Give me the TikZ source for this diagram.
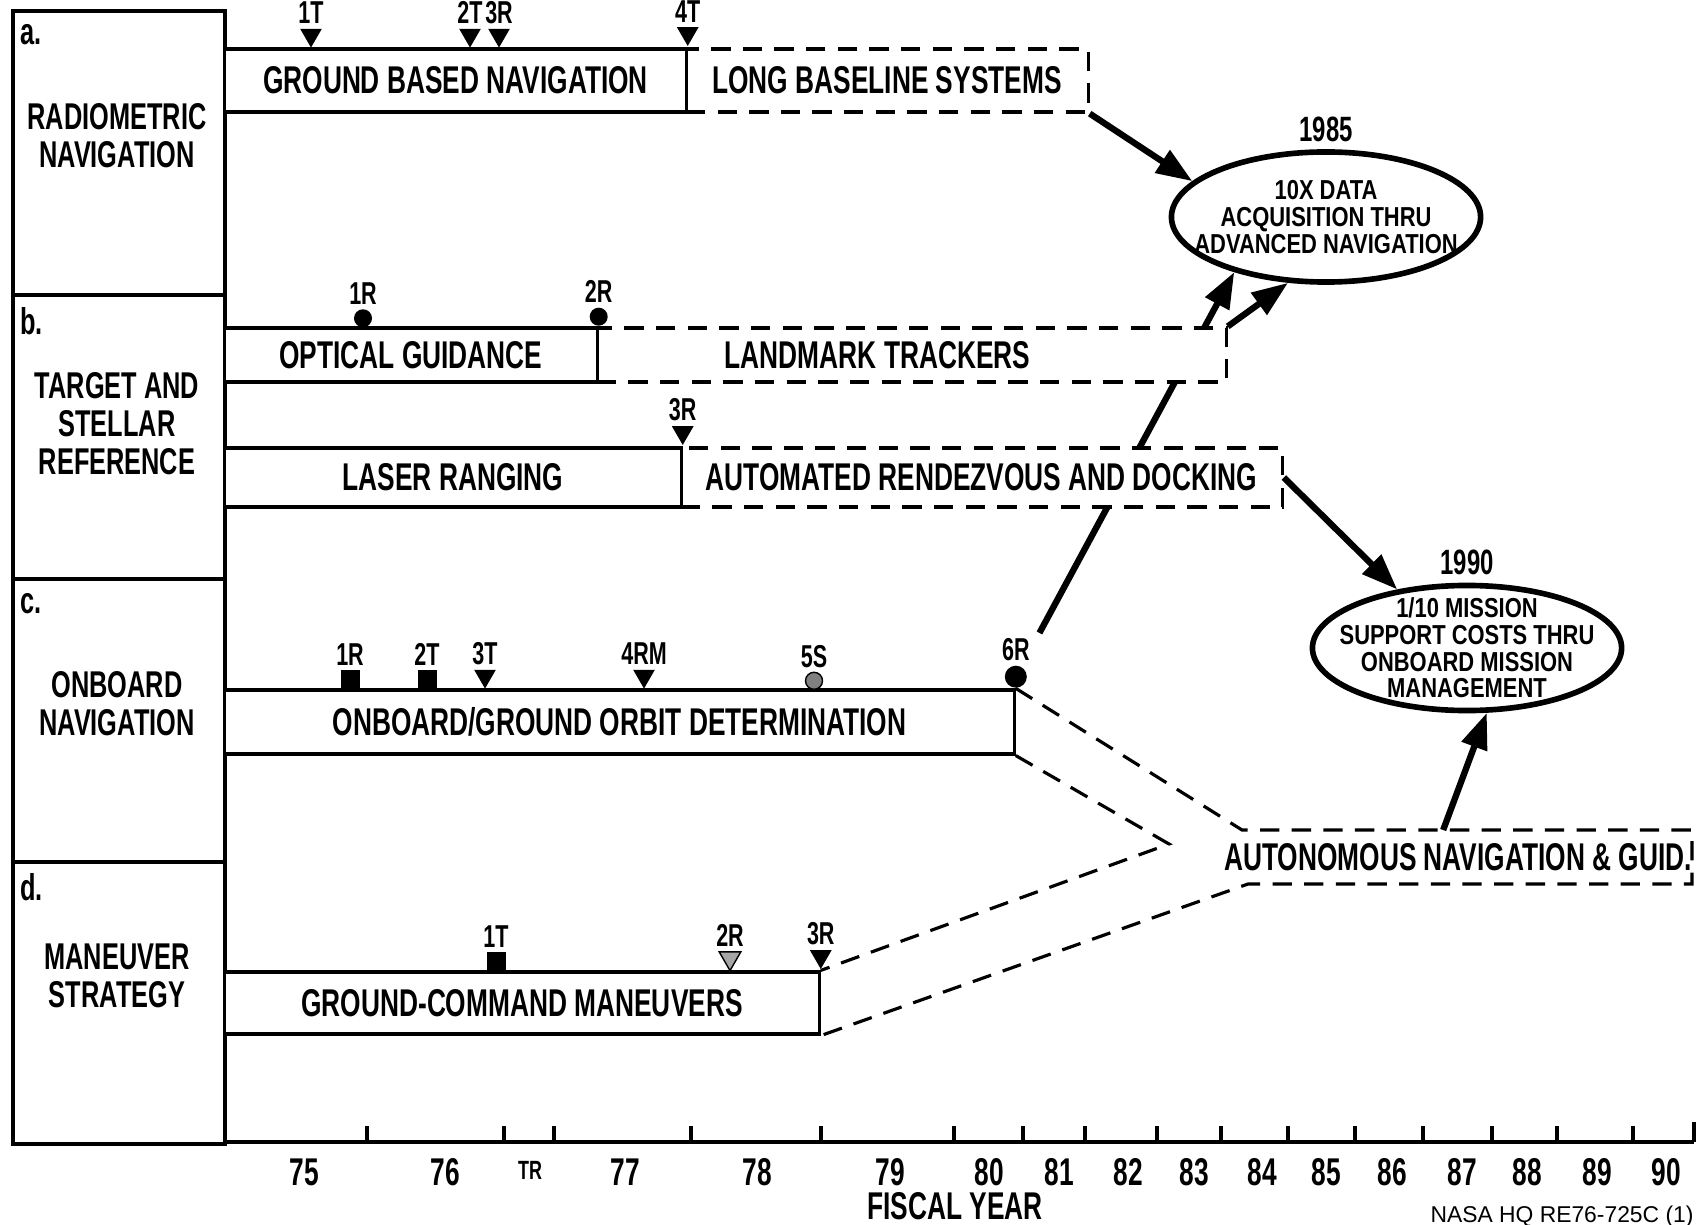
\documentclass[tikz,border=0pt]{standalone}
\usepackage{fontspec}
\setmainfont{Liberation Sans}
\newfontfamily\cond{Liberation Sans}[FakeStretch=0.68]
\newfontfamily\condw{Liberation Sans}[FakeStretch=0.8]
\usetikzlibrary{arrows.meta, shapes.geometric, positioning, backgrounds, calc}

\begin{document}
\begin{tikzpicture}[
    x=0.01cm, y=-0.01cm,
    bar/.style={rectangle, draw, line width=0.9pt, fill=white, inner sep=0pt, font=\cond\bfseries\fontsize{11}{12}\selectfont},
    plan/.style={bar, dash pattern=on 5.5pt off 3.5pt},
    planline/.style={line width=0.9pt, dash pattern=on 5.5pt off 3.5pt},
    goal/.style={ellipse, draw, line width=1.6pt, inner xsep=-0.3cm, inner ysep=-0.3cm, minimum width=3.09cm, minimum height=1.3cm, align=center, font=\condw\bfseries\fontsize{7.8}{7.6}\selectfont},
    cat/.style={align=center, font=\cond\bfseries\fontsize{10.6}{10.8}\selectfont},
    tag/.style={font=\cond\bfseries\fontsize{9}{10}\selectfont, inner sep=1pt},
    yr/.style={font=\cond\bfseries\fontsize{11}{12}\selectfont, inner sep=0pt},
    tri/.style={regular polygon, regular polygon sides=3, shape border rotate=180, fill, inner sep=0pt, minimum size=0.25cm, anchor=corner 1},
    dot/.style={circle, fill, inner sep=0pt, minimum size=0.18cm, anchor=south},
    sq/.style={rectangle, fill, inner sep=0pt, minimum size=0.19cm, anchor=south},
    big/.style={-{Triangle[length=0.36cm, width=0.26cm]}, line width=1.8pt}
]
\useasboundingbox (0,0) rectangle (1701,1225);

% left column
\draw[line width=1.4pt] (13,11) rectangle (225,1144);
\foreach \y in {295,579,862} \draw[line width=1.4pt] (13,\y) -- (225,\y);
\node[cat, anchor=west, inner sep=1pt] (pa) at (16,35) {a.};
\node[cat, anchor=west, inner sep=1pt] (pb) at (16,321) {b.};
\node[cat, anchor=west, inner sep=1pt] (pc) at (16,604) {c.};
\node[cat, anchor=west, inner sep=1pt] (pd) at (16,887) {d.};
\node[cat] (radio) at (117,136) {RADIOMETRIC\\NAVIGATION};
\node[cat] (target) at (117,424) {TARGET AND\\STELLAR\\REFERENCE};
\node[cat] (onnav) at (117,704) {ONBOARD\\NAVIGATION};
\node[cat] (manv) at (117,976) {MANEUVER\\STRATEGY};

% goals
\node[goal, label={[yr, font=\cond\bfseries\fontsize{10}{11}\selectfont, inner sep=2pt]above:1985}] (e85) at (1326,217) {10X DATA\\ACQUISITION THRU\\ADVANCED NAVIGATION};
\node[goal, minimum height=1.25cm, label={[yr, font=\cond\bfseries\fontsize{10}{11}\selectfont, inner sep=2pt]above:1990}] (e90) at (1467,648) {1/10 MISSION\\SUPPORT COSTS THRU\\ONBOARD MISSION\\MANAGEMENT};

% planned (dashed) boxes
\node[plan, minimum width=4.02cm, minimum height=0.63cm] (lbs) at (887,80.5) {LONG BASELINE SYSTEMS};
\node[plan, minimum width=6.29cm, minimum height=0.54cm] (lmt) at (911.5,355) {LANDMARK TRACKERS\hspace*{0.68cm}};
\node[plan, minimum width=6.01cm, minimum height=0.59cm] (ard) at (981.5,477.5) {AUTOMATED RENDEZVOUS AND DOCKING};

% current (solid) boxes
\node[bar, minimum width=4.61cm, minimum height=0.63cm] (gbn) at (455.5,80.5) {GROUND BASED NAVIGATION};
\node[bar, minimum width=3.72cm, minimum height=0.54cm] (opt) at (411,355) {OPTICAL GUIDANCE};
\node[bar, minimum width=4.56cm, minimum height=0.59cm] (lsr) at (453,477.5) {LASER RANGING};
\node[bar, minimum width=7.89cm, minimum height=0.64cm] (obd) at (619.5,722) {ONBOARD/GROUND ORBIT DETERMINATION};
\node[bar, minimum width=5.94cm, minimum height=0.62cm] (gcm) at (522,1003) {GROUND-COMMAND MANEUVERS};

% autonomous navigation
\node[bar, draw=none, fill=none] (anv) at (1458,857) {AUTONOMOUS NAVIGATION \& GUID.};
\coordinate (anTL) at (1242,830);
\coordinate (anTR) at (1692,830);
\coordinate (anBR) at (1692,884);
\coordinate (anBL) at (1248,884);
\coordinate (apex) at (1169,844);
\coordinate (anUp) at ($(anTL)!0.447!(anTR)$);
\draw[planline] (obd.north east) -- (anTL) -- (anTR) -- (anBR) -- (anBL) -- (gcm.south east);
\draw[planline] (obd.south east) -- (apex) -- (gcm.north east);

% milestones
\node[tri, label={[tag]above:1T}] (a1) at (311,49) {};
\node[tri, label={[tag]above:2T}] (a2) at (470,49) {};
\node[tri, label={[tag]above:3R}] (a3) at (499,49) {};
\node[tri, label={[tag]above:4T}] (a4) at (gbn.north east) {};
\node[dot, label={[tag]above:1R}] (b1) at (363,328) {};
\node[dot, label={[tag]above:2R}] (b2) at (opt.north east) {};
\node[tri, label={[tag]above:3R}] (b3) at (lsr.north east) {};
\node[sq, label={[tag]above:1R}] (c1) at (350,690) {};
\node[sq, label={[tag]above:2T}] (c2) at (427,690) {};
\node[tri, label={[tag]above:3T}] (c3) at (485,690) {};
\node[tri, label={[tag]above:4RM}] (c4) at (644,690) {};
\node[dot, draw, fill=gray, minimum size=0.17cm, label={[tag]above:5S}] (c5) at (814,690) {};
\node[dot, minimum size=0.22cm, label={[tag]above:6R}] (c6) at (obd.north east) {};
\node[sq, label={[tag]above:1T}] (d1) at (496,972) {};
\node[tri, draw, fill=gray!70, label={[tag]above:2R}] (d2) at (730,972) {};
\node[tri, label={[tag]above:3R}] (d3) at (gcm.north east) {};

% arrows to goals
\begin{scope}[on background layer]
\draw[big, shorten <=0.38cm] (c6) -- (e85.211);
\end{scope}
\draw[big] (lbs.south east) -- (e85.165);
\draw[big] (lmt.north east) -- (e85.240);
\draw[big] (ard.east) -- (e90.140);
\draw[big] (anUp) -- (e90.287);

% time axis
\draw[line width=1.2pt] (225,1142) -- (1694,1142);
\foreach \x in {367,504,554,691,821,954,1023,1085,1157,1221,1288,1355,1423,1492,1557,1633}
  \draw[line width=0.9pt] (\x,1142) -- (\x,1126);
\draw[line width=0.9pt] (1694,1142) -- (1694,1122);
\foreach \x/\t in {304/75, 445/76, 625/77, 757/78, 890/79, 989/80, 1059/81, 1128/82, 1194/83, 1262/84, 1326/85, 1392/86, 1462/87, 1527/88, 1597/89, 1666/90}
  \node[yr] (y\t) at (\x,1172) {\t};
\node[tag, font=\cond\bfseries\fontsize{7.5}{8}\selectfont] (ytr) at (530,1170) {TR};
\node[yr] (fy) at (955,1206) {FISCAL YEAR};
\node[font=\fontsize{6.5}{7}\selectfont, inner sep=0pt] (ref) at (1562,1217) {NASA HQ RE76-725C (1)};

\end{tikzpicture}
\end{document}
